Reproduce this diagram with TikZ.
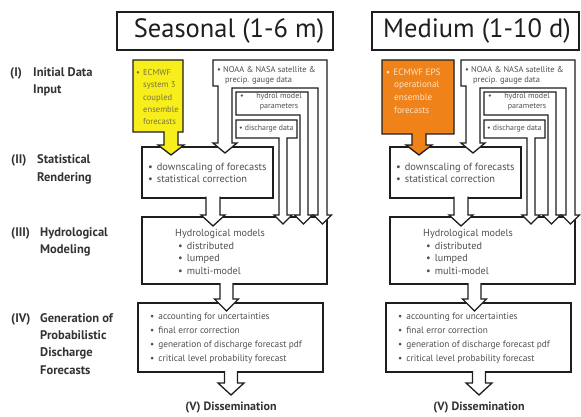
\documentclass[tikz,border=0pt]{standalone}
\usepackage{fontspec}
\setmainfont{PT Sans}
\definecolor{ln}{HTML}{1E1E1E}
\definecolor{tx}{HTML}{505050}
\definecolor{lb}{HTML}{333333}
\definecolor{ylw}{HTML}{F7EE1B}
\definecolor{org}{HTML}{F0821A}
\definecolor{orgtx}{HTML}{FBE6C8}
\definecolor{ylwtx}{HTML}{7A7440}
\tikzset{
  box/.style={draw=ln, line width=1.3pt, fill=white, inner sep=0pt},
  shp/.style={draw=ln, line width=1.3pt, fill=white, line join=miter},
  lbl/.style={text=lb, font=\fontsize{12.5}{17}\selectfont\bfseries, inner sep=0pt},
  txt/.style={text=tx, inner sep=0pt, align=left},
  ttl/.style={text=ln, font=\fontsize{26.5}{28}\selectfont, inner sep=0pt},
}
% xc, ytop, ybase, ytip, half stem, half head
\newcommand\barrow[6]{%
  \path[shp] ({#1-#5},#2) -- ({#1-#5},#3) -- ({#1-#6},#3) -- (#1,#4) -- ({#1+#6},#3) -- ({#1+#5},#3) -- ({#1+#5},#2);
}
\newcommand\panelcommon{%
  \node[box, minimum width=131, minimum height=51] (stat) at (207.5,172.5) {};
  \node[box, minimum width=185, minimum height=67] (hydro) at (234.5,250.5) {};
  \node[box, minimum width=185, minimum height=69] (gen) at (230.5,337.5) {};
  \barrow{213}{196.5}{215}{226}{7}{12}
  \barrow{226.5}{283}{299}{311}{6.5}{12}
  \barrow{231}{371}{383}{395}{6.5}{13}
  % NOAA shape
  \path[shp] (213,60) -- (327,60) -- (327,215) -- (331.5,215) -- (322.5,224) -- (313.5,215)
     -- (318,215) -- (318,88) -- (232,88) -- (232,143) -- (237,143) -- (225,153) -- (213,143)
     -- (218,143) -- (218,86) -- (213,86) -- cycle;
  % hydrol model shape
  \path[shp] (236,92) -- (308,92) -- (308,215) -- (312.5,215) -- (303.5,224) -- (294.5,215)
     -- (300,215) -- (300,115) -- (236,115) -- cycle;
  % discharge shape
  \path[shp] (236,120) -- (297,120) -- (297,138) -- (287,138) -- (287,215) -- (292,215)
     -- (283,224) -- (274,215) -- (279,215) -- (279,138) -- (236,138) -- cycle;
  \node[txt, anchor=west, font=\fontsize{8.4}{10}\selectfont] (noaatxt) at (217,75)
     {• NOAA \& NASA satellite \&\\\hspace*{8pt}precip. gauge data};
  \node[txt, anchor=center, font=\fontsize{8}{10}\selectfont] (bul) at (242,97) {•};
  \node[txt, anchor=center, align=center, font=\fontsize{8}{10}\selectfont] (hydtxt) at (279,102)
     {hydrol model\\parameters};
  \node[txt, anchor=west, font=\fontsize{7.8}{10}\selectfont] (distxt) at (239,129) {• discharge data};
  \node[txt, anchor=west, font=\fontsize{10.4}{12.5}\selectfont] (stattxt) at (148,173)
     {•\hspace{4pt}downscaling of forecasts\\•\hspace{4pt}statistical correction};
  \node[txt, anchor=west, font=\fontsize{10.2}{12.4}\selectfont] (hydrotxt) at (175,252)
     {Hydrological models\\\hspace*{3pt}•\hspace{4pt}distributed\\\hspace*{3pt}•\hspace{4pt}lumped\\\hspace*{3pt}•\hspace{4pt}multi-model};
  \node[txt, anchor=west, font=\fontsize{9.3}{14}\selectfont] (gentxt) at (150,338)
     {•\hspace{4pt}accounting for uncertainties\\•\hspace{4pt}final error correction\\•\hspace{4pt}generation of discharge forecast pdf\\•\hspace{4pt}critical level probability forecast};
  \node[lbl, font=\fontsize{12}{14}\selectfont\bfseries] (diss) at (231,408) {(V) Dissemination};
}
\begin{document}
\begin{tikzpicture}[x=1pt, y=-1pt]
  \useasboundingbox (0,0) rectangle (581,417);
  \fill[white] (0,0) rectangle (581,417);
  % titles
  \node[box, minimum width=216, minimum height=38] (tl) at (225,31) {};
  \node[ttl] (tltxt) at (229,31) {Seasonal (1-6 m)};
  \node[box, minimum width=207, minimum height=38] (tr) at (475.5,31) {};
  \node[ttl] (trtxt) at (477,31) {Medium (1-10 d)};
  % panels
  \begin{scope}[name prefix=L-]
    \panelcommon
  \end{scope}
  \begin{scope}[xshift=248pt, name prefix=R-]
    \panelcommon
  \end{scope}
  % source boxes
  \path[shp, fill=ylw] (133,60) -- (183,60) -- (183,132) -- (178,132) -- (178,145) -- (184,145)
     -- (171,155) -- (158,145) -- (164,145) -- (164,132) -- (133,132) -- cycle;
  \node[txt, anchor=west, text=ylwtx, font=\fontsize{8.6}{12.4}\selectfont] (ytxt) at (136,97)
     {•\hspace{3pt}ECMWF\\\hspace*{7pt}system 3\\\hspace*{7pt}coupled\\\hspace*{7pt}ensemble\\\hspace*{7pt}forecasts};
  \path[shp, fill=org] (382,60) -- (454,60) -- (454,134) -- (426,134) -- (426,145) -- (432,145)
     -- (419,155) -- (406,145) -- (412,145) -- (412,134) -- (382,134) -- cycle;
  \node[txt, anchor=west, text=orgtx, font=\fontsize{9.2}{12.7}\selectfont] (otxt) at (386,91)
     {•\hspace{3pt}ECMWF EPS\\\hspace*{8pt}operational\\\hspace*{8pt}ensemble\\\hspace*{8pt}forecasts};
  % left labels
  \node[lbl, anchor=base west] (n1) at (10,77) {(I)};
  \node[lbl, anchor=base west] (l1a) at (33,77) {Initial Data};
  \node[lbl, anchor=base west] (l1b) at (33,94) {Input};
  \node[lbl, anchor=base west] (n2) at (11,164) {(II)};
  \node[lbl, anchor=base west] (l2a) at (37,164) {Statistical};
  \node[lbl, anchor=base west] (l2b) at (37,181) {Rendering};
  \node[lbl, anchor=base west] (n3) at (11,236) {(III)};
  \node[lbl, anchor=base west] (l3a) at (40,236) {Hydrological};
  \node[lbl, anchor=base west] (l3b) at (40,253) {Modeling};
  \node[lbl, anchor=base west] (n4) at (11,322) {(IV)};
  \node[lbl, anchor=base west] (l4a) at (40,322) {Generation of};
  \node[lbl, anchor=base west] (l4b) at (40,339) {Probabilistic};
  \node[lbl, anchor=base west] (l4c) at (40,356) {Discharge};
  \node[lbl, anchor=base west] (l4d) at (40,374) {Forecasts};
\end{tikzpicture}
\end{document}
